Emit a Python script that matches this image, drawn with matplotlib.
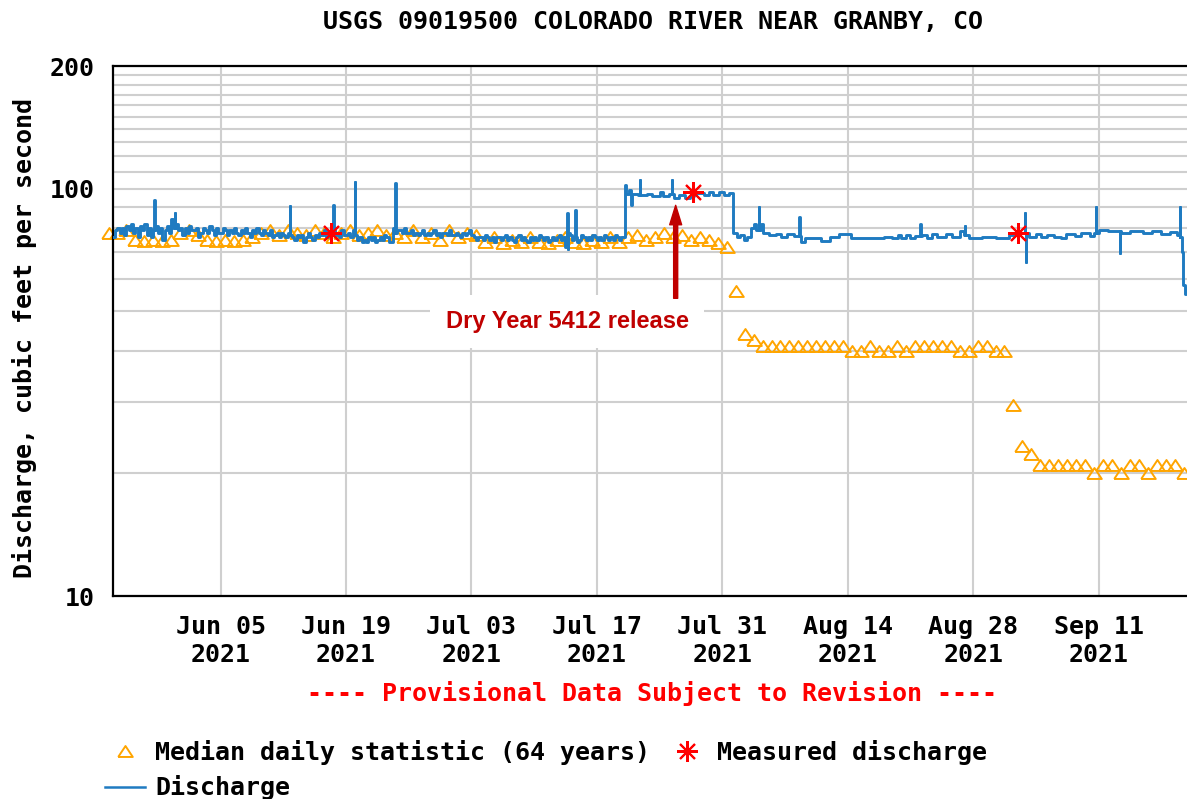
import numpy as np
import matplotlib
matplotlib.use("Agg")
import matplotlib.pyplot as plt
import matplotlib.dates as mdates
from matplotlib.lines import Line2D
from datetime import datetime, timedelta

startDate = datetime(2021, 5, 24)   # left edge of the plot
xEndDay = 119.87                    # right edge (picture is cut here)

# median daily statistic, one value per day starting May 23
medianCfs = [78,
             78, 79,
             75, 74.5, 75, 74.5, 75,
             78, 79, 77,
             75, 74.5, 75, 74.5, 75, 76,
             78, 79, 77, 79, 78, 77, 79, 78, 76, 78, 79, 77, 78, 79, 77,
             78, 76, 79, 76, 78, 75, 79, 76, 78, 77,
             74, 76, 73.5, 75, 74, 76, 74, 73.5, 75, 76, 74, 73.5, 75, 74, 76, 74,
             76, 77, 75, 76, 78, 76, 77, 75, 76, 75,
             73.5, 72,
             56,
             44, 42.5,
             41, 41, 41, 41, 41, 41, 41, 41, 41, 41,
             40, 40, 41, 40, 40, 41, 40,
             41, 41, 41, 41, 41,
             40, 40,
             41, 41,
             40, 40,
             29.5,
             23.3, 22.3,
             21, 21, 21, 21, 21, 21,
             20, 21, 21, 20, 21, 21, 20, 21, 21, 21, 20]

# discharge May 24 - Jul 19, four 6-hour values per day
earlyCfs = [
    [76, 79, 80, 78], [80, 77, 81, 79], [82, 78, 80, 76], [81, 79, 82, 77],
    [80, 76, 79, 81], [78, 80, 75, 79], [81, 78, 84, 80], [82, 79, 80, 77],
    [80, 78, 81, 79], [79, 80, 76, 78], [80, 79, 78, 81], [79, 77, 80, 78],
    [78, 80, 79, 77], [79, 78, 80, 78], [77, 79, 78, 80], [78, 76, 79, 78],
    [80, 78, 77, 79], [78, 77, 79, 76], [77, 78, 76, 78], [77, 76, 78, 77],
    [76, 75, 77, 76], [77, 74, 76, 78], [76, 75, 77, 76], [78, 77, 79, 76],
    [77, 78, 80, 77], [78, 76, 79, 77], [77, 78, 76, 79], [77, 75, 76, 74],
    [75, 74, 76, 75], [76, 74, 75, 76], [75, 77, 76, 74], [74, 80, 78, 79],
    [79, 78, 80, 78], [78, 79, 77, 78], [77, 78, 79, 77], [78, 77, 78, 79],
    [77, 78, 76, 78], [78, 77, 79, 77], [77, 78, 77, 76], [78, 77, 78, 79],
    [77, 76, 75, 76], [76, 75, 77, 76], [75, 76, 74, 76], [76, 75, 76, 77],
    [75, 76, 75, 74], [76, 77, 75, 76], [75, 74, 76, 75], [76, 75, 77, 76],
    [75, 76, 74, 75], [76, 75, 76, 77], [75, 76, 72, 78], [77, 75, 76, 74],
    [75, 77, 76, 75], [76, 75, 77, 76], [75, 76, 75, 77], [76, 75, 76, 75],
    [77, 76, 75, 76],
]

# discharge from Jul 20 on: (day since May 24, cfs) where the value changes
lateDay = [57.0, 57.10, 57.25, 57.6, 57.85, 57.95, 58.6, 59.6, 60.2, 61.0,
           61.4, 62.0, 62.6, 63.2, 63.8, 64.4, 64.9, 66.0, 66.5, 67.0,
           67.6, 68.2, 68.8, 69.2, 69.6, 70.0, 70.4, 70.8, 71.2, 71.5,
           71.8, 72.3, 72.6, 73.2, 74.0, 74.6, 75.2, 76.0, 76.8, 77.2,
           79.0, 80.0, 81.0, 82.4, 86.0, 87.0, 87.6, 88.0, 88.5, 88.9,
           89.5, 90.3, 90.8, 91.4, 92.0, 93.0, 93.6, 94.5, 95.0, 95.5,
           97.0, 98.5, 100.0, 101.0, 102.2, 103.0, 103.6, 104.3, 105.0, 105.8,
           106.4, 107.4, 108.0, 109.0, 109.5, 110.0, 111.0, 112.5, 113.5, 115.0,
           116.0, 117.0, 118.0, 118.8, 119.1, 119.3, 119.4, 119.6, 119.8, 120.0]
lateCfs = [76, 102, 97, 99, 91, 97, 96.5, 97, 96, 98,
           96, 97, 95, 96.5, 95, 96, 97.5, 96.5, 98, 96.5,
           98, 96.5, 97.5, 78, 76, 77, 75, 76, 80, 82,
           79, 82, 78, 77, 77.5, 76, 77.5, 76.5, 74, 75.5,
           74.5, 76, 77.5, 75.5, 76, 75.5, 77, 75.5, 77, 75.5,
           76.5, 77, 75.5, 77.5, 76, 77.5, 76, 78.5, 77, 75.5,
           76, 75.5, 77, 78, 76, 77.5, 76, 77, 76, 75.5,
           77.5, 76.5, 78, 76.5, 78, 79, 78.5, 78, 78.5, 78,
           78.5, 77.5, 78.3, 77, 76, 70, 58, 55, 57, 56]

# short spikes in the 15-minute record
spikeDay = [4.6, 6.9, 19.75, 24.6, 27.0, 31.5, 50.7, 50.75, 51.6, 58.8,
            62.4, 72.1, 76.6, 90.1, 95.1, 101.8, 101.85, 109.7, 112.4, 119.1]
spikeCfs = [94, 87, 90.5, 91, 104, 103, 87, 71, 88.5, 105,
            105, 90, 85, 82, 81, 87, 66, 90, 69.5, 90]

# field measurements
measuredDay = [24.3, 64.7, 101.0]
measuredCfs = [78, 98, 78]

tickDates = [datetime(2021, 6, 5), datetime(2021, 6, 19), datetime(2021, 7, 3),
             datetime(2021, 7, 17), datetime(2021, 7, 31), datetime(2021, 8, 14),
             datetime(2021, 8, 28), datetime(2021, 9, 11)]

# Build the discharge step series

qDay = []
qCfs = []
for d, row in enumerate(earlyCfs):
    for k, val in enumerate(row):
        qDay.append(d + 0.25 * k)
        qCfs.append(val)
qDay = np.array(qDay + lateDay, dtype=float)
qCfs = np.array(qCfs + lateCfs, dtype=float)

tAll = list(qDay)
vAll = list(qCfs)
for ts, vs in zip(spikeDay, spikeCfs):
    base = qCfs[np.searchsorted(qDay, ts, side="right") - 1]
    tAll += [ts, ts + 0.04]
    vAll += [vs, base]
order = np.argsort(tAll, kind="stable")
tAll = np.array(tAll)[order]
vAll = np.array(vAll)[order]

x0 = mdates.date2num(startDate)
qX = x0 + tAll
medX = x0 + np.arange(-1, len(medianCfs) - 1) + 0.5
measX = x0 + np.array(measuredDay)

# Figure

mono = "DejaVu Sans Mono"
fs = 18
blue = "#1f7bc1"
orange = "#ffa500"
red = "#ff0000"
darkRed = "#c00000"
triangle = [(-1, -0.75), (1, -0.75), (0, 0.75), (-1, -0.75)]
asterisk = (8, 2, 0)

W, H = 1187, 799
fig = plt.figure(figsize=(W / 100, H / 100), dpi=100)
ax = fig.add_axes([113 / W, (H - 596) / H, (W - 113) / W, (596 - 66) / H])

ax.plot(qX, vAll, drawstyle="steps-post", color=blue, lw=2.1, zorder=3)
ax.plot(medX, medianCfs, ls="none", marker=triangle, ms=10.5, mew=1.4,
        mfc="none", mec=orange, zorder=2, clip_on=False)
ax.plot(measX, measuredCfs, ls="none", marker=asterisk, ms=15, mew=1.5,
        color=red, zorder=4)

ax.set_yscale("log")
ax.set_ylim(10, 200)
ax.set_xlim(x0, x0 + xEndDay)

ax.set_yticks([10, 100, 200])
ax.set_yticklabels(["10", "100", "200"])
ax.set_yticks(list(range(20, 100, 10)) + list(range(110, 200, 10)), minor=True)
ax.yaxis.set_minor_formatter(plt.NullFormatter())
ax.set_xticks(mdates.date2num(tickDates))
ax.set_xticklabels([d.strftime("%b %d\n%Y") for d in tickDates])

ax.tick_params(which="both", length=0)
ax.tick_params(axis="y", pad=13)
ax.tick_params(axis="x", pad=14)
for lab in ax.get_xticklabels() + ax.get_yticklabels():
    lab.set_family(mono)
    lab.set_fontweight("bold")
    lab.set_fontsize(fs)
    lab.set_linespacing(1.2)

ax.grid(True, which="both", color="#cfcfcf", lw=1.5)
ax.set_axisbelow(True)
for side in ["left", "bottom", "top"]:
    ax.spines[side].set_linewidth(1.6)
    ax.spines[side].set_color("black")
ax.spines["right"].set_visible(False)

# annotation
ax.text(x0 + 50.7, 47.2, "Dry Year 5412 release", family="Liberation Sans",
        fontweight="bold", fontsize=17, color=darkRed, ha="center", va="center",
        bbox=dict(facecolor="white", edgecolor="none", pad=11), zorder=5)
ax.annotate("", xy=(x0 + 62.8, 91), xytext=(x0 + 62.8, 53.8),
            arrowprops=dict(arrowstyle="simple,head_length=1.4,head_width=0.86,tail_width=0.29",
                            color=darkRed, mutation_scale=10, shrinkA=0, shrinkB=0),
            zorder=6)

# texts around the plot
fig.text(653 / W, 1 - 22 / H, "USGS 09019500 COLORADO RIVER NEAR GRANBY, CO",
         family=mono, fontweight="bold", fontsize=fs, ha="center", va="center")
fig.text(25 / W, 1 - 338 / H, "Discharge, cubic feet per second", rotation=90,
         family=mono, fontweight="bold", fontsize=fs, ha="center", va="center")
fig.text(652 / W, 1 - 693 / H, "---- Provisional Data Subject to Revision ----",
         family=mono, fontweight="bold", fontsize=fs, color=red, ha="center", va="center")

handles = [Line2D([], [], ls="none", marker=triangle, ms=10.5, mew=1.4, mfc="none", mec=orange),
           Line2D([], [], color=blue, lw=1.8),
           Line2D([], [], ls="none", marker=asterisk, ms=15, mew=1.5, color=red)]
labels = ["Median daily statistic (64 years)", "Discharge", "Measured discharge"]
fig.legend(handles, labels, ncol=2, loc="upper left",
           bbox_to_anchor=(105 / W, 1 - 740 / H), frameon=False,
           borderpad=0, borderaxespad=0, handlelength=1.6, handletextpad=0.4,
           columnspacing=0.68, labelspacing=0.42,
           prop=dict(family=mono, weight="bold", size=fs))

fig.savefig("out.png", dpi=100)
